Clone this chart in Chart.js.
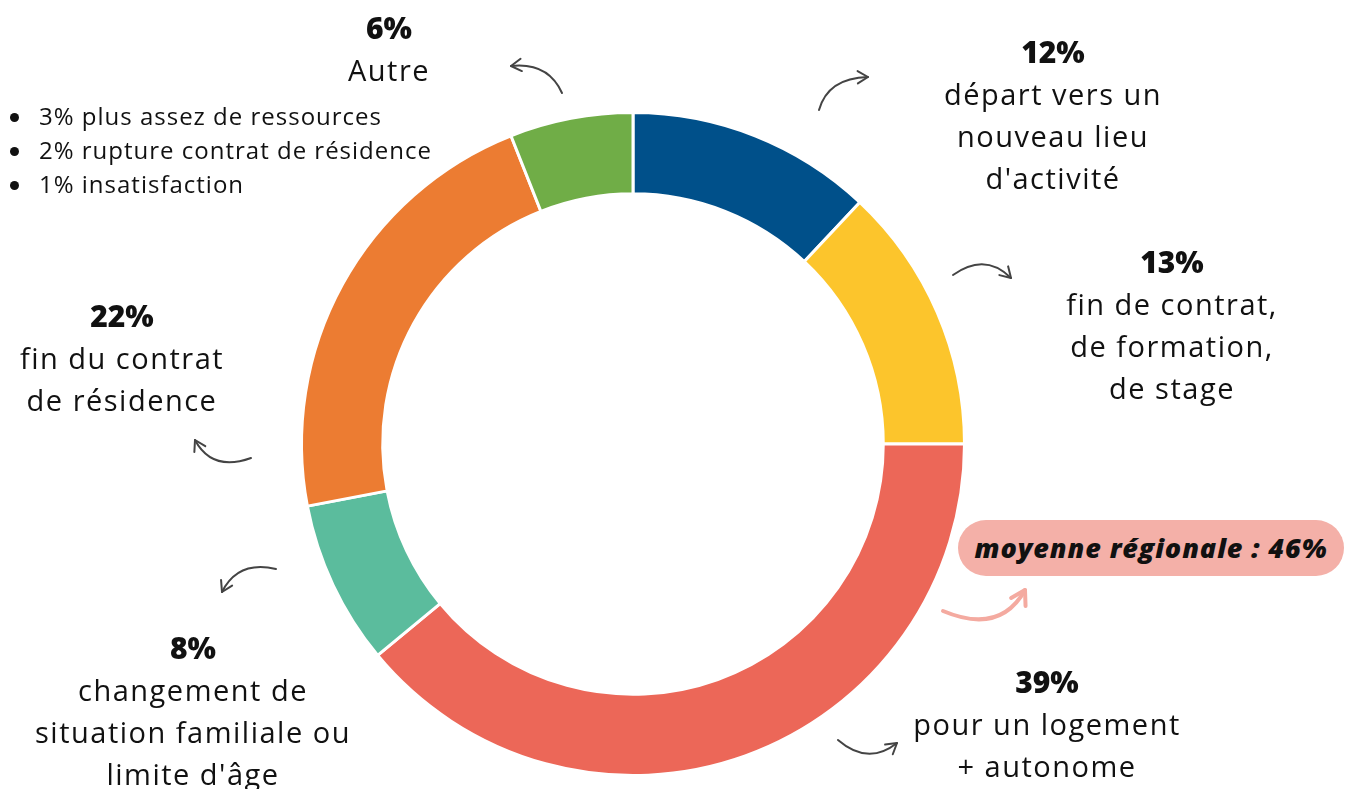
<!DOCTYPE html>
<html>
<head>
<meta charset="utf-8">
<script src="https://cdn.jsdelivr.net/npm/chart.js@4"></script>
<style>
  html, body { margin: 0; padding: 0; background: #fff; }
  #wrap { position: relative; width: 1351px; height: 789px; overflow: hidden; font-family: "Open Sans", Inter, sans-serif; color: #111; }
  #chart { position: absolute; left: 0; top: 0; }
  .lbl { position: absolute; text-align: center; font-size: 29px; letter-spacing: 1.5px; line-height: 42px; white-space: nowrap; transform: translateX(-50%); }
  .lbl b { font-weight: 800; font-size: 30px; letter-spacing: 0; }
  #autres { position: absolute; left: 6px; top: 99px; margin: 0; padding: 0; list-style: none; font-size: 24px; letter-spacing: 1px; line-height: 34px; }
  #autres li::before { content: ""; display: inline-block; width: 9px; height: 9px; border-radius: 50%; background: #111; margin: 0 20px 3px 4px; vertical-align: middle; }
  #pill { position: absolute; left: 958px; top: 520px; width: 386px; height: 56px; border-radius: 28px; background: #f4b0a8; font-size: 27px; letter-spacing: 0.9px; font-weight: 800; font-style: italic; text-align: center; line-height: 56px; white-space: nowrap; }
</style>
</head>
<body>
<div id="wrap">
  <canvas id="chart" width="1351" height="789"></canvas>
  <div class="lbl" style="left:389px;top:7px"><b>6%</b><br>Autre</div>
  <ul id="autres"></ul>
  <div class="lbl" style="left:1053px;top:31px"><b>12%</b><br>départ vers un<br>nouveau lieu<br>d'activité</div>
  <div class="lbl" style="left:1172px;top:241px"><b>13%</b><br>fin de contrat,<br>de formation,<br>de stage</div>
  <div class="lbl" style="left:122px;top:295px"><b>22%</b><br>fin du contrat<br>de résidence</div>
  <div class="lbl" style="left:193px;top:627px"><b>8%</b><br>changement de<br>situation familiale ou<br>limite d'âge</div>
  <div class="lbl" style="left:1047px;top:661px"><b>39%</b><br>pour un logement<br>+ autonome</div>
  <div id="pill">moyenne régionale : 46%</div>
</div>
<script>
var categories = ["départ vers un nouveau lieu d'activité", "fin de contrat, de formation, de stage", "pour un logement + autonome", "changement de situation familiale ou limite d'âge", "fin du contrat de résidence", "Autre"];
var values = [12, 13, 39, 8, 22, 6];
var colors = ["#00508a", "#fcc52c", "#ec6758", "#5bbc9d", "#ec7c32", "#70ad47"];
var autreDetail = ["3% plus assez de ressources", "2% rupture contrat de résidence", "1% insatisfaction"];

var ul = document.getElementById("autres");
autreDetail.forEach(function (t) {
    var li = document.createElement("li");
    li.textContent = t;
    ul.appendChild(li);
});

// flèches dessinées à la main : [départ, contrôle, pointe, couleur, épaisseur]
var arrows = [
    [[562, 93], [548, 62], [511, 66], "#444", 2],
    [[819, 110], [828, 78], [868, 77], "#444", 2],
    [[953, 275], [985, 252], [1011, 278], "#444", 2],
    [[251, 458], [212, 472], [195, 440], "#444", 2],
    [[276, 569], [238, 560], [222, 592], "#444", 2],
    [[838, 740], [868, 766], [897, 743], "#444", 2],
    [[943, 611], [1000, 635], [1025, 590], "#f4aaa0", 4]
];

var arrowPlugin = {
    id: "arrows",
    afterDraw: function (chart) {
        var ctx = chart.ctx;
        ctx.save();
        ctx.lineCap = "round";
        ctx.lineJoin = "round";
        arrows.forEach(function (a) {
            var s = a[0], c = a[1], e = a[2];
            ctx.strokeStyle = a[3];
            ctx.lineWidth = a[4];
            ctx.beginPath();
            ctx.moveTo(s[0], s[1]);
            ctx.quadraticCurveTo(c[0], c[1], e[0], e[1]);
            ctx.stroke();
            // pointe
            var ang = Math.atan2(e[1] - c[1], e[0] - c[0]);
            var len = a[4] > 2 ? 16 : 12;
            ctx.beginPath();
            ctx.moveTo(e[0] + len * Math.cos(ang + 2.6), e[1] + len * Math.sin(ang + 2.6));
            ctx.lineTo(e[0], e[1]);
            ctx.lineTo(e[0] + len * Math.cos(ang - 2.6), e[1] + len * Math.sin(ang - 2.6));
            ctx.stroke();
        });
        ctx.restore();
    }
};

new Chart(document.getElementById("chart").getContext("2d"), {
    type: "doughnut",
    data: {
        labels: categories,
        datasets: [{
            data: values,
            backgroundColor: colors,
            borderColor: "#fff",
            borderWidth: 3
        }]
    },
    options: {
        responsive: false,
        animation: false,
        cutout: "75.5%",
        layout: { padding: { left: 300, right: 385, top: 111, bottom: 12 } },
        plugins: {
            legend: { display: false },
            tooltip: { enabled: false }
        }
    },
    plugins: [arrowPlugin]
});
</script>
</body>
</html>
